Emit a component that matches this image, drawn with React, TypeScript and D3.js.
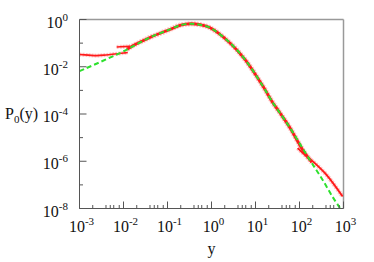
import React from 'react';
import * as d3 from 'd3';

const W = 374;
const H = 262;
const left = 79.5, right = 343.5, top = 19.5, bottom = 208.5;

// fitted curve (green dashed)
const fitY = [1e-3, 8.5e-3, 4.1e-2, 0.114, 0.2, 0.34, 0.55, 0.93, 2.63, 5.75, 14.8, 24.5, 35.5, 60, 170, 331, 562, 813, 1000];
const fitP = [6.5e-3, 3.9e-2, 0.178, 0.38, 0.58, 0.66, 0.6, 0.447, 0.102, 2.04e-2, 1.48e-3, 3.09e-4, 1.15e-4, 2.69e-5, 1.17e-6, 1.7e-7, 3.16e-8, 1.12e-8, 6.3e-9];

// simulation data (red), one piece per bin
const lowBinY = [1e-3, 1.6e-3, 2.5e-3, 4e-3, 6.3e-3, 1e-2, 1.25e-2];
const lowBinP = [3.3e-2, 3.1e-2, 2.95e-2, 3.15e-2, 3.45e-2, 3.8e-2, 4.0e-2];
const stepBinY = [7e-3, 1e-2, 1.4e-2];
const stepBinP = [6.9e-2, 7.1e-2, 7.3e-2];
const mainBinY = [1.2e-2, 1.6e-2, 2.6e-2, 4.1e-2, 0.114, 0.2, 0.34, 0.55, 0.93, 2.63, 5.75, 14.8, 24.5, 35.5, 60, 120, 190];
const mainBinP = [5.5e-2, 7.6e-2, 0.12, 0.178, 0.38, 0.58, 0.66, 0.6, 0.447, 0.102, 2.04e-2, 1.48e-3, 3.09e-4, 1.15e-4, 2.69e-5, 2.9e-6, 9e-7];
const tailBinY = [91, 140, 219, 407, 955];
const tailBinP = [3.6e-6, 1.7e-6, 8.5e-7, 2.7e-7, 3.2e-8];

const xMajor = [1e-3, 1e-2, 1e-1, 1, 10, 100, 1000];
const xExp = ['-3', '-2', '-1', '0', '1', '2', '3'];
const xMinorMult = [2, 4, 5, 6, 8];
const yMajor = [1, 1e-1, 1e-2, 1e-3, 1e-4, 1e-5, 1e-6, 1e-7, 1e-8];
const yLabelled = [1, 1e-2, 1e-4, 1e-6, 1e-8];
const yExp = ['0', '-2', '-4', '-6', '-8'];

const x = d3.scaleLog().domain([1e-3, 1e3]).range([left, right]);
const y = d3.scaleLog().domain([1e-8, 1]).range([bottom, top]);

const line = d3.line<[number, number]>()
  .x(d => x(d[0]))
  .y(d => y(d[1]))
  .curve(d3.curveCatmullRom.alpha(0.5));

const zip = (a: number[], b: number[]) => a.map((v, i) => [v, b[i]] as [number, number]);

const redPieces = [
  zip(lowBinY, lowBinP),
  zip(stepBinY, stepBinP),
  zip(mainBinY, mainBinP),
  zip(tailBinY, tailBinP),
];
const coreWidth = [1.6, 1.6, 2.8, 1.9];

const font = '"Liberation Serif", "Times New Roman", serif';
const axisCol = '#555';

export default function App() {
  const minors: number[] = [];
  xMajor.slice(0, -1).forEach(m => xMinorMult.forEach(k => minors.push(m * k)));

  return (
    <svg width={W} height={H} style={{ position: 'absolute', left: 0, top: 0, background: '#fff' }}
      fontFamily={font}>
      <defs>
        <clipPath id="plot">
          <rect x={left} y={top} width={right - left} height={bottom - top} />
        </clipPath>
      </defs>

      {/* frame */}
      <line x1={left} y1={top} x2={right} y2={top} stroke="#999" strokeWidth={1.5} />
      <line x1={right} y1={top} x2={right} y2={bottom} stroke="#999" strokeWidth={1.5} />

      <g clipPath="url(#plot)">
        {redPieces.map((pts, i) => (
          <path key={'h' + i} d={line(pts) || ''} fill="none" stroke="#ff7a7a" strokeWidth={coreWidth[i] + 2.4}
            strokeOpacity={0.45} strokeDasharray="2,1" />
        ))}
        {redPieces.map((pts, i) => (
          <path key={'c' + i} d={line(pts) || ''} fill="none" stroke="#ff1a1a" strokeWidth={coreWidth[i]} />
        ))}
        <path d={line(zip(fitY, fitP)) || ''} fill="none" stroke="#2ee02e" strokeWidth={2} strokeDasharray="5,3" />
      </g>

      <line x1={left} y1={top} x2={left} y2={bottom} stroke={axisCol} strokeWidth={1} />
      <line x1={left} y1={bottom} x2={right} y2={bottom} stroke={axisCol} strokeWidth={1} />

      {/* y ticks */}
      {yMajor.map(v => (
        <line key={'yt' + v} x1={left} x2={left + (yLabelled.includes(v) ? 7 : 3.5)} y1={y(v)} y2={y(v)} stroke={axisCol} />
      ))}
      {yLabelled.map((v, i) => (
        <text key={'yl' + v} x={68} y={y(v) + 8} textAnchor="end" fontSize={16} fill="#111">
          10<tspan dy={-7} fontSize={11}>{yExp[i]}</tspan>
        </text>
      ))}

      {/* x ticks */}
      {xMajor.map(v => (
        <line key={'xt' + v} x1={x(v)} x2={x(v)} y1={bottom} y2={bottom - 7} stroke={axisCol} />
      ))}
      {minors.map(v => (
        <line key={'xm' + v} x1={x(v)} x2={x(v)} y1={bottom} y2={bottom - 3.5} stroke={axisCol} />
      ))}
      {xMajor.map((v, i) => (
        <text key={'xl' + v} x={x(v) + 2} y={231.5} textAnchor="middle" fontSize={16} fill="#111">
          10<tspan dy={-7} fontSize={11}>{xExp[i]}</tspan>
        </text>
      ))}

      {/* axis titles */}
      <text x={(left + right) / 2} y={254} textAnchor="middle" fontSize={16} fill="#111">y</text>
      <text x={5} y={119} fontSize={16} fill="#111">
        P<tspan dy={4} fontSize={11}>0</tspan><tspan dy={-4}>(y)</tspan>
      </text>
    </svg>
  );
}
